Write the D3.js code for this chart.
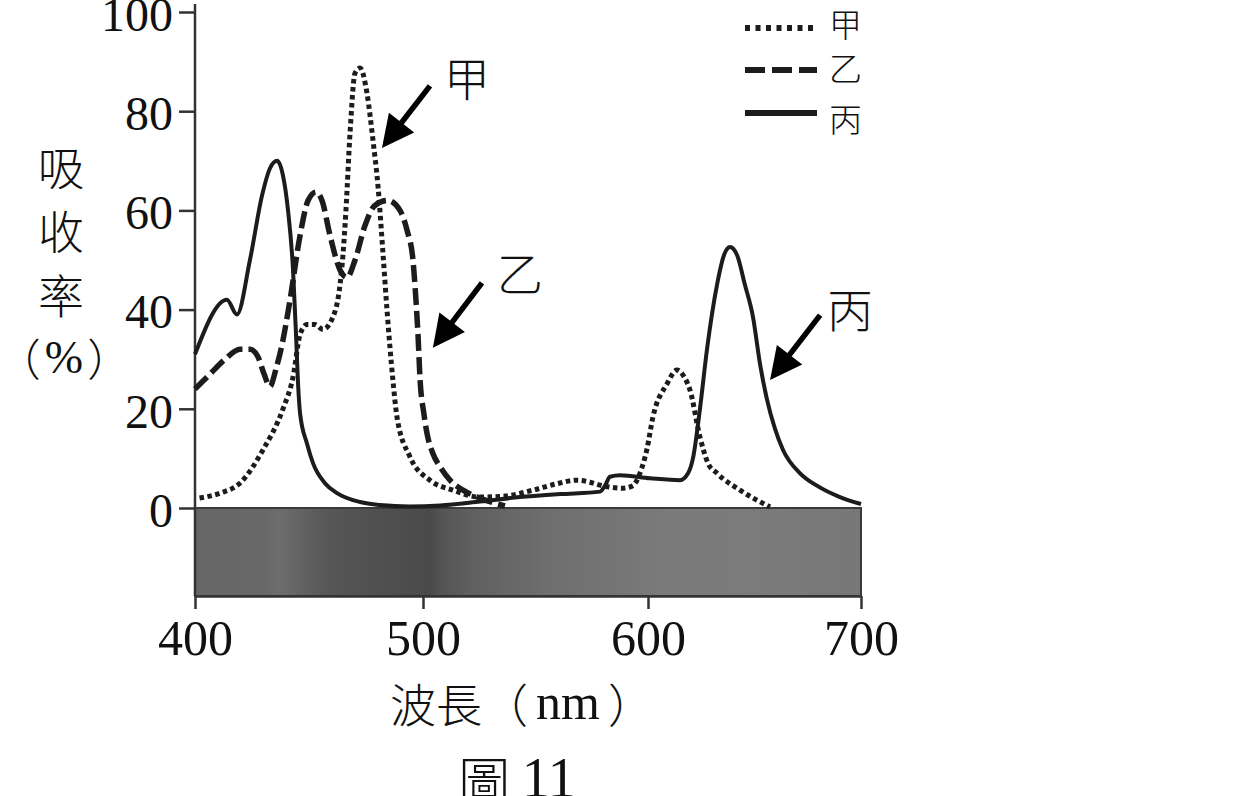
<!DOCTYPE html>
<html>
<head>
<meta charset="utf-8">
<script src="https://cdn.jsdelivr.net/npm/d3@7"></script>
<style>
  body { margin: 0; background: #fff; }
  svg { display: block; }
</style>
</head>
<body>
<div id="chart"></div>
<script>
// absorption (%) against wavelength (nm)
const jia = [
  [402, 2], [411, 3], [419.7, 5], [429.8, 11.7], [438.6, 20], [443, 26.4], [446.1, 35],
  [449.1, 37], [452.6, 37], [456.1, 36], [460.5, 38.5], [463.6, 45], [464.9, 51],
  [466.2, 60], [468, 75.6], [470.2, 87.7], [472.4, 88.7], [475.4, 83.7], [478.1, 74],
  [480.3, 64.7], [482.5, 51], [484.2, 40], [486.8, 25.8], [488.6, 18.3], [494.3, 10.3],
  [503.1, 5.6], [513.3, 3.6], [525.3, 2.2], [536.4, 2.4], [548.9, 3.6], [558.7, 4.8],
  [568.4, 5.6], [574.2, 5.2], [578.7, 4.6], [588.9, 4], [593.3, 4.5], [596.4, 7],
  [599.6, 12], [602.3, 18.3], [608.9, 25], [613.6, 27.8], [616.9, 26.5], [619.7, 23.8],
  [624.4, 14.3], [628.2, 9], [632.4, 7], [643.2, 3.6], [657.3, 0.2]
];
const yi = [
  [400, 24], [406.6, 27], [413.2, 30], [419.7, 32], [424.1, 32], [427.6, 30.5],
  [430.3, 27], [432.9, 24.5], [435.5, 28], [438.2, 33], [441.7, 42], [446.1, 55],
  [449.6, 62], [453.1, 63.7], [455.7, 62], [459.2, 55], [463.6, 48], [466.7, 46.5],
  [470.2, 50], [474.6, 57], [478.9, 61], [484.6, 62], [489.9, 60], [493, 56],
  [495.6, 50], [496.9, 42], [497.8, 35], [498.7, 26], [500.4, 19], [501.8, 15],
  [504.4, 11], [507.6, 8.3], [512, 5.6], [517.8, 3.6], [525.3, 2], [536.4, 0.4]
];
const bing = [
  [400, 31], [414, 42], [418.4, 39], [424.1, 50], [429.4, 63], [432.9, 68.5],
  [436, 70], [438.6, 67], [440.8, 60], [443, 48], [444.3, 35], [445.2, 25],
  [446.1, 19], [449.1, 13], [451.8, 9], [457, 5], [462.3, 3], [472.4, 1.2],
  [481.1, 0.6], [494.3, 0.3], [507.6, 0.5], [525.3, 1.3], [543.1, 2.2], [560.9, 2.8],
  [578.7, 3.3], [580.9, 4.5], [583.1, 6.3], [587.6, 6.6], [600.9, 6], [615, 5.6],
  [618.8, 7], [621.1, 10], [624.4, 20], [627.7, 32], [632.4, 45], [635.7, 51],
  [638.5, 52.6], [641.8, 51], [645.5, 45], [649.3, 38.5], [652.6, 29], [655.9, 21.8],
  [659.6, 16], [663.4, 11.7], [671.4, 7], [679.3, 4.5], [690.1, 2.2], [700, 0.8]
];
const seriesNames = ["甲", "乙", "丙"];
const xTicks = [400, 500, 600, 700];
const yTicks = [0, 20, 40, 60, 80, 100];

// grey level of the spectrum strip under the axis
const stripNm = [400, 431, 437, 446, 459, 480, 503, 509, 521, 554, 578, 607, 650, 700];
const stripGray = [0x66, 0x68, 0x6d, 0x63, 0x56, 0x50, 0x4a, 0x55, 0x5f, 0x6e, 0x73, 0x7a, 0x7b, 0x77];

// pointer arrows: tail, tip and label, in (nm, %)
const arrowTail = [[503.1, 85.1], [526.2, 45.4], [680.8, 38.9]];
const arrowTip = [[482, 72.6], [504.4, 32.3], [657.3, 25.8]];
const arrowLabel = [[519.6, 87.1], [543.1, 47.8], [694.8, 40.5]];

const W = 1257, H = 796;
const ink = "#1c1c1c";
const cjk = "'Noto Sans CJK TC', 'Noto Sans CJK SC', sans-serif";
const serif = "'Liberation Serif', 'DejaVu Serif', serif";

const svg = d3.select("#chart").append("svg")
  .attr("width", W)
  .attr("height", H)
  .style("background", "#fff");

const x = d3.scaleLinear().domain(xTicks).range([195, 423, 648, 861]);
const y = d3.scaleLinear().domain([0, 100]).range([508, 12]);
const stripBottom = 596;

// spectrum strip
const grad = svg.append("defs").append("linearGradient")
  .attr("id", "strip")
  .attr("gradientUnits", "userSpaceOnUse")
  .attr("x1", x(400)).attr("x2", x(700))
  .attr("y1", 0).attr("y2", 0);
grad.selectAll("stop")
  .data(stripNm)
  .join("stop")
  .attr("offset", d => (x(d) - x(400)) / (x(700) - x(400)))
  .attr("stop-color", (d, i) => d3.rgb(stripGray[i], stripGray[i], stripGray[i]));

svg.append("rect")
  .attr("x", x(400))
  .attr("y", y(0))
  .attr("width", x(700) - x(400))
  .attr("height", stripBottom - y(0))
  .attr("fill", "url(#strip)")
  .attr("stroke", "#3a3a3a")
  .attr("stroke-width", 2);

// y axis
const yAxis = svg.append("g")
  .attr("transform", `translate(${x(400)},0)`)
  .call(d3.axisLeft(y).tickValues(yTicks).tickSize(16).tickSizeOuter(0).tickPadding(6));
yAxis.select(".domain").remove();
yAxis.selectAll(".tick line").attr("stroke", "#333").attr("stroke-width", 2.5);
yAxis.selectAll(".tick text")
  .attr("font-family", serif)
  .attr("font-size", 48)
  .attr("fill", "#111")
  .attr("dy", "0.38em");
svg.append("line")
  .attr("x1", x(400)).attr("x2", x(400))
  .attr("y1", 4).attr("y2", stripBottom)
  .attr("stroke", "#333")
  .attr("stroke-width", 2.5);

// x axis along the bottom of the strip
const xAxis = svg.append("g")
  .attr("transform", `translate(0,${stripBottom})`)
  .call(d3.axisBottom(x).tickValues(xTicks).tickSize(13).tickSizeOuter(0).tickPadding(10));
xAxis.select(".domain").attr("stroke", "#333").attr("stroke-width", 2.5);
xAxis.selectAll(".tick line").attr("stroke", "#333").attr("stroke-width", 2.5);
xAxis.selectAll(".tick text")
  .attr("font-family", serif)
  .attr("font-size", 50)
  .attr("fill", "#111")
  .attr("dy", "0.72em");

// curves
const line = d3.line()
  .x(d => x(d[0]))
  .y(d => y(d[1]))
  .curve(d3.curveMonotoneX);

const styles = [
  { width: 5, dash: "4.5,3.5" },
  { width: 5.5, dash: "17,6" },
  { width: 4, dash: null }
];

svg.append("g")
  .selectAll("path")
  .data([jia, yi, bing])
  .join("path")
  .attr("d", line)
  .attr("fill", "none")
  .attr("stroke", ink)
  .attr("stroke-width", (d, i) => styles[i].width)
  .attr("stroke-dasharray", (d, i) => styles[i].dash);

// pointer arrows
function arrow(g, t0, t1) {
  const ax = x(t0[0]), ay = y(t0[1]), bx = x(t1[0]), by = y(t1[1]);
  const len = Math.hypot(bx - ax, by - ay);
  const ux = (bx - ax) / len, uy = (by - ay) / len;
  const head = 32, half = 16;
  const cx = bx - ux * head, cy = by - uy * head;
  g.append("line")
    .attr("x1", ax).attr("y1", ay)
    .attr("x2", cx + ux * 4).attr("y2", cy + uy * 4)
    .attr("stroke", "#000")
    .attr("stroke-width", 5.5);
  g.append("path")
    .attr("d", `M${bx},${by}L${cx - uy * half},${cy + ux * half}L${cx + uy * half},${cy - ux * half}Z`)
    .attr("fill", "#000");
}
const arrows = svg.append("g");
arrowTail.forEach((t, i) => arrow(arrows, t, arrowTip[i]));
arrows.selectAll("text")
  .data(arrowLabel)
  .join("text")
  .attr("x", d => x(d[0]))
  .attr("y", d => y(d[1]))
  .attr("text-anchor", "middle")
  .attr("dominant-baseline", "central")
  .attr("font-family", cjk)
  .attr("font-weight", 300)
  .attr("font-size", 46)
  .attr("fill", "#111")
  .text((d, i) => seriesNames[i]);

// legend
const legendY = [28, 70, 113];
const legendTextY = [23, 67, 118];
const legendStyles = [
  { width: 6, dash: "5,5.5" },
  { width: 6, dash: "20,7" },
  { width: 6, dash: null }
];
const legend = svg.append("g");
legend.selectAll("line")
  .data(seriesNames)
  .join("line")
  .attr("x1", 745).attr("x2", 817)
  .attr("y1", (d, i) => legendY[i]).attr("y2", (d, i) => legendY[i])
  .attr("stroke", ink)
  .attr("stroke-width", (d, i) => legendStyles[i].width)
  .attr("stroke-dasharray", (d, i) => legendStyles[i].dash);
legend.selectAll("text")
  .data(seriesNames)
  .join("text")
  .attr("x", 829)
  .attr("y", (d, i) => legendTextY[i])
  .attr("dominant-baseline", "central")
  .attr("font-family", cjk)
  .attr("font-weight", 300)
  .attr("font-size", 33)
  .attr("fill", "#111")
  .text(d => d);

// y title, written top to bottom
const yTitle = ["吸", "收", "率"];
svg.append("g")
  .selectAll("text")
  .data(yTitle)
  .join("text")
  .attr("x", 61)
  .attr("y", (d, i) => 165 + i * 64)
  .attr("text-anchor", "middle")
  .attr("dominant-baseline", "central")
  .attr("font-family", cjk)
  .attr("font-weight", 300)
  .attr("font-size", 46)
  .attr("fill", "#111")
  .text(d => d);
const pct = svg.append("text")
  .attr("x", 64)
  .attr("y", 357)
  .attr("text-anchor", "middle")
  .attr("dominant-baseline", "central")
  .attr("font-family", cjk)
  .attr("font-weight", 300)
  .attr("font-size", 44)
  .attr("fill", "#111");
pct.append("tspan").text("（");
pct.append("tspan").attr("dx", 4).attr("font-family", serif).attr("font-size", 46).text("%");
pct.append("tspan").attr("dx", 4).text("）");

// x title
const xTitle = svg.append("text")
  .attr("x", 522)
  .attr("y", 702)
  .attr("text-anchor", "middle")
  .attr("dominant-baseline", "central")
  .attr("font-family", cjk)
  .attr("font-weight", 300)
  .attr("font-size", 46)
  .attr("fill", "#111");
xTitle.append("tspan").text("波長（");
xTitle.append("tspan").attr("dx", 8).attr("font-family", serif).attr("font-size", 50).text("nm");
xTitle.append("tspan").attr("dx", 8).text("）");

// figure caption
const caption = svg.append("text")
  .attr("x", 517)
  .attr("y", 778)
  .attr("text-anchor", "middle")
  .attr("dominant-baseline", "central")
  .attr("font-family", cjk)
  .attr("font-weight", 300)
  .attr("font-size", 52)
  .attr("fill", "#111");
caption.append("tspan").text("圖 ");
caption.append("tspan").attr("font-family", serif).attr("font-size", 56).text("11");
</script>
</body>
</html>
